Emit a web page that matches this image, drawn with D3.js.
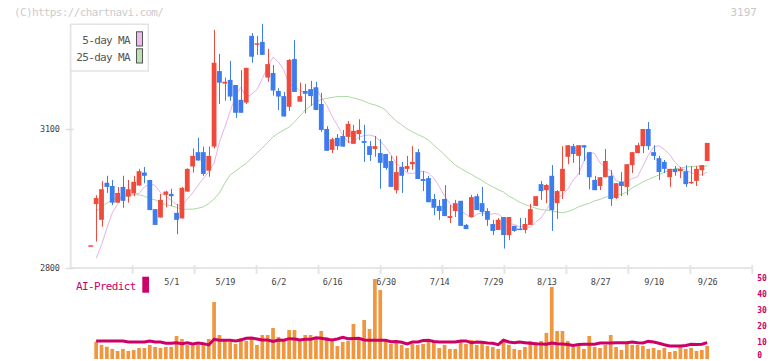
<!DOCTYPE html>
<html>
<head>
<meta charset="utf-8">
<script src="https://cdn.jsdelivr.net/npm/d3@7"></script>
<style>
  body { margin: 0; background: #fff; }
  text { font-family: "DejaVu Sans Mono", monospace; }
</style>
</head>
<body>
<div id="canvas"></div>
<script>
"use strict"

/* Daily prices (one entry per trading day, oldest first) */
let opens = [2849, 2938, 2904, 2984, 2977, 2941, 2975, 2954, 2961, 2978, 3006, 2990, 2927, 2909, 2958, 2960,
    2919, 2907, 2965, 3019, 3050, 3050, 3010, 3062, 3225, 3198, 3206, 3195, 3163, 3157, 3301, 3282, 3288, 3211,
    3221, 3182, 3171, 3148, 3251, 3159, 3182, 3186, 3190, 3154, 3100, 3055, 3081, 3085, 3083, 3068, 3089, 3074,
    3063, 3057, 3048, 3046, 3031, 2968, 3018, 3014, 3024, 3050, 2992, 2994, 2949, 2934, 2949, 2908, 2923, 2945,
    2893, 2910, 2955, 2940, 2923, 2895, 2882, 2910, 2871, 2891, 2885, 2882, 2893, 2934, 2981, 2968, 2999, 2940,
    2966, 3040, 3063, 3042, 3065, 3050, 2990, 2977, 2996, 2999, 2951, 2986, 2975, 3022, 3048, 3063, 3100, 3050,
    3037, 3029, 2996, 3014, 3009, 3009, 2983, 2988, 3011, 3031];
let highs = [2849, 2957, 2988, 2999, 2990, 2975, 2999, 2990, 2999, 3014, 3018, 2990, 2927, 2960, 2967, 2971,
    2938, 2975, 3015, 3058, 3081, 3062, 3062, 3314, 3262, 3211, 3247, 3195, 3227, 3232, 3307, 3301, 3327, 3273,
    3238, 3188, 3180, 3251, 3292, 3200, 3197, 3204, 3202, 3178, 3106, 3081, 3089, 3098, 3117, 3109, 3121, 3109,
    3074, 3085, 3078, 3046, 3042, 3042, 3029, 3042, 3063, 3057, 3009, 2999, 2960, 2947, 2979, 2936, 2947, 2945,
    2895, 2958, 2960, 2975, 2929, 2904, 2908, 2910, 2910, 2891, 2908, 2908, 2938, 2955, 2988, 2981, 3022, 2968,
    3063, 3065, 3068, 3065, 3065, 3050, 2999, 2996, 3057, 3011, 2983, 3007, 3024, 3050, 3070, 3100, 3115, 3065,
    3042, 3033, 3014, 3020, 3018, 3022, 3020, 3020, 3022, 3070];
let lows = [2849, 2857, 2889, 2962, 2936, 2941, 2930, 2941, 2955, 2978, 2983, 2925, 2893, 2909, 2931, 2934,
    2873, 2907, 2965, 3006, 3032, 2999, 2997, 3058, 3154, 3161, 3161, 3124, 3135, 3154, 3243, 3260, 3260, 3202,
    3172, 3141, 3127, 3139, 3180, 3159, 3134, 3150, 3141, 3094, 3053, 3048, 3055, 3062, 3070, 3068, 3076, 3029,
    3031, 3040, 2971, 3012, 2975, 2961, 2962, 3007, 3012, 2992, 2966, 2942, 2914, 2904, 2912, 2897, 2910, 2891,
    2884, 2909, 2925, 2912, 2891, 2871, 2882, 2842, 2860, 2878, 2882, 2875, 2893, 2934, 2947, 2940, 2880, 2906,
    2949, 3024, 3027, 3001, 3031, 2970, 2968, 2968, 2996, 2934, 2949, 2955, 2957, 3005, 3048, 3048, 3055, 3033,
    2990, 3005, 2975, 2999, 2994, 2975, 2981, 2977, 2999, 3031];
let closes = [2849, 2951, 2970, 2975, 2941, 2962, 2945, 2970, 2986, 3009, 2999, 2925, 2893, 2947, 2965, 2955,
    2904, 2973, 3014, 3042, 3032, 3003, 3042, 3243, 3200, 3202, 3170, 3135, 3135, 3232, 3256, 3285, 3260, 3240,
    3183, 3170, 3127, 3249, 3180, 3171, 3176, 3171, 3141, 3098, 3053, 3078, 3063, 3062, 3111, 3096, 3098, 3070,
    3044, 3063, 3027, 3016, 2975, 3007, 2999, 3020, 3029, 2992, 2988, 2942, 2930, 2923, 2912, 2912, 2940, 2891,
    2884, 2953, 2925, 2921, 2904, 2880, 2904, 2871, 2910, 2880, 2882, 2895, 2927, 2955, 2966, 2979, 2925, 2966,
    3014, 3065, 3046, 3065, 3060, 2996, 2968, 2996, 3031, 2949, 2983, 2977, 3024, 3050, 3065, 3100, 3063, 3042,
    3007, 3014, 3014, 3007, 3014, 2981, 2986, 3014, 3022, 3070];

/* Moving averages as drawn on the chart */
let ma5 = [null, 2821, 2850, 2886, 2919, 2938, 2960, 2959, 2959, 2961, 2975, 2982, 2978, 2963, 2955, 2946,
    2937, 2933, 2949, 2962, 2978, 2993, 3008, 3026, 3072, 3104, 3138, 3171, 3190, 3168, 3175, 3185, 3209, 3234,
    3255, 3245, 3228, 3196, 3194, 3182, 3179, 3181, 3190, 3168, 3152, 3128, 3108, 3087, 3071, 3073, 3082, 3086,
    3087, 3084, 3074, 3061, 3044, 3025, 3018, 3005, 3004, 3006, 3009, 3005, 2994, 2976, 2955, 2939, 2924, 2923,
    2916, 2908, 2916, 2919, 2915, 2917, 2917, 2907, 2896, 2894, 2889, 2889, 2888, 2899, 2908, 2925, 2945, 2951,
    2958, 2970, 2990, 3003, 3031, 3050, 3047, 3027, 3017, 3010, 2988, 2986, 2987, 2993, 2997, 3020, 3043, 3061,
    3064, 3056, 3045, 3028, 3017, 3011, 3006, 3001, 3001, 3007];
let ma25 = [null, 2922, 2932, 2940, 2947, 2951, 2954, 2957, 2958, 2958, 2955, 2950, 2947, 2941, 2937, 2934,
    2931, 2927, 2927, 2927, 2929, 2932, 2939, 2949, 2962, 2983, 3001, 3009, 3018, 3026, 3037, 3048, 3059, 3071,
    3083, 3091, 3098, 3104, 3115, 3128, 3141, 3150, 3158, 3164, 3166, 3168, 3170, 3170, 3170, 3167, 3164, 3160,
    3155, 3152, 3148, 3141, 3128, 3117, 3109, 3100, 3094, 3088, 3083, 3076, 3065, 3055, 3044, 3033, 3022, 3015,
    3008, 3002, 2995, 2989, 2981, 2975, 2969, 2964, 2955, 2949, 2942, 2937, 2933, 2929, 2926, 2925, 2923, 2921,
    2919, 2922, 2926, 2932, 2936, 2940, 2945, 2948, 2953, 2955, 2957, 2959, 2964, 2973, 2979, 2986, 2991, 2996,
    3001, 3007, 3010, 3014, 3016, 3018, 3019, 3020, 3020, 3020];

/* Bottom panel: volume bars and the AI-Predict line */
let volumes = [null, 10.8, 8.8, 7.7, 6.3, 5.0, 6.3, 5.0, 5.6, 6.9, 6.9, 8.8, 7.5, 6.9, 7.5, 7.5, 14.4, 12.5,
    8.8, 8.8, 8.8, 10.0, 12.5, 35.6, 15.0, 11.9, 10.6, 9.4, 13.1, 11.3, 13.1, 8.8, 15.0, 15.0, 19.4, 13.8, 12.5,
    18.1, 18.1, 12.5, 15.0, 15.0, 12.5, 17.5, 13.8, 12.5, 8.1, 10.6, 11.3, 21.9, 11.9, 24.4, 18.8, 50.0, 43.1,
    11.3, 9.4, 10.0, 8.8, 6.9, 9.4, 8.8, 9.4, 10.6, 11.3, 6.9, 8.8, 6.3, 6.3, 10.6, 9.4, 11.9, 8.8, 10.0, 8.1,
    7.5, 6.3, 12.5, 8.8, 6.3, 5.6, 7.5, 11.3, 9.4, 11.3, 16.3, 45.0, 17.5, 17.5, 11.3, 7.5, 8.1, 6.3, 14.4, 7.5,
    6.9, 8.8, 15.0, 7.5, 5.6, 9.4, 8.8, 8.8, 8.1, 6.3, 6.9, 5.6, 6.9, 4.4, 5.0, 7.5, 6.3, 6.9, 5.0, 5.6, 8.1];
let aiPredict = [null, 11.3, 11.3, 11.3, 11.3, 11.3, 11.3, 10.6, 10.6, 10.6, 10.6, 11.3, 10.6, 10.6, 9.8, 9.8,
    10.2, 9.6, 10.2, 9.4, 10.0, 9.6, 8.8, 12.3, 11.7, 11.7, 11.7, 11.3, 11.9, 12.9, 13.1, 12.5, 11.9, 11.9, 11.0,
    11.9, 11.7, 12.7, 12.5, 11.9, 12.3, 12.3, 13.3, 13.0, 12.3, 11.9, 12.5, 13.5, 12.7, 12.8, 12.9, 11.9, 11.7,
    11.7, 11.7, 11.7, 10.8, 11.0, 10.5, 9.4, 10.6, 10.6, 11.5, 11.7, 11.0, 10.6, 10.6, 10.6, 10.6, 11.3, 11.3,
    10.2, 10.6, 10.4, 10.0, 9.8, 9.0, 11.7, 10.6, 10.2, 10.6, 10.2, 9.8, 9.6, 9.3, 9.2, 10.0, 9.6, 9.4, 9.0, 8.5,
    9.0, 9.2, 9.2, 9.2, 10.0, 10.0, 10.0, 10.1, 10.2, 10.2, 10.6, 10.2, 10.0, 11.0, 10.6, 9.8, 8.9, 8.1, 8.1, 8.1,
    8.5, 9.2, 9.0, 9.2, 10.2];

/* Axis labels */
let dateLabels = ["5/1", "5/19", "6/2", "6/16", "6/30", "7/14", "7/29", "8/13", "8/27", "9/10", "9/26"];
let dateLabelDays = [15, 25, 35, 45, 55, 65, 75, 85, 95, 105, 115];
let priceTicks = [2800, 3100];
let volumeTicks = [0, 10, 20, 30, 40, 50];

let days = d3.range(closes.length);

let drawing = d3.select("#canvas")
    .append("svg")
    .attr("width", 772)
    .attr("height", 361);

// scales
let x = d3.scaleLinear().domain([0, days.length - 1]).range([90.8, 707.2]);
let y = d3.scaleLinear().domain([2800, 3100]).range([268, 129]);
let yVol = d3.scaleLinear().domain([0, 50]).range([359, 279]);
let grid = d3.scaleLinear().domain([0, 11]).range([70.7, 752.3]);

let up = "#ef4b3c";
let down = "#3d7ced";

// header texts
drawing.append("text")
    .attr("x", 14)
    .attr("y", 16)
    .attr("font-size", 11)
    .attr("letter-spacing", -0.65)
    .attr("fill", "#cccccc")
    .text("(C)https://chartnavi.com/");
drawing.append("text")
    .attr("x", 757)
    .attr("y", 16)
    .attr("text-anchor", "end")
    .attr("font-family", "Liberation Sans")
    .attr("font-size", 11)
    .attr("fill", "#c8c8c8")
    .text("3197");

// frame lines
drawing.append("line")
    .attr("x1", 70.7).attr("x2", 70.7)
    .attr("y1", 24).attr("y2", 269)
    .attr("stroke", "#e5e5e5")
    .attr("stroke-width", 2);
drawing.append("line")
    .attr("x1", 70.7).attr("x2", 752.3)
    .attr("y1", 268).attr("y2", 268)
    .attr("stroke", "#e5e5e5")
    .attr("stroke-width", 2);
drawing.selectAll(".gridTick")
    .data(d3.range(1, 12))
    .enter().append("line")
    .attr("x1", d => grid(d)).attr("x2", d => grid(d))
    .attr("y1", 265).attr("y2", 274)
    .attr("stroke", "#e5e5e5")
    .attr("stroke-width", 2);

// price axis
let yAxis = drawing.append("g")
    .attr("transform", "translate(70.7,0)")
    .call(d3.axisLeft(y).tickValues(priceTicks).tickFormat(d3.format("d")).tickSize(5).tickPadding(6));
yAxis.select(".domain").remove();
yAxis.selectAll(".tick line").attr("x2", -5).attr("x1", 3).attr("stroke", "#dddddd").attr("stroke-width", 1.5);
yAxis.selectAll(".tick text")
    .attr("font-family", "DejaVu Sans Mono")
    .attr("font-size", 8.5)
    .attr("letter-spacing", -0.2)
    .attr("fill", "#444");

// date labels
let xAxis = drawing.append("g")
    .attr("transform", "translate(0,268)")
    .call(d3.axisBottom(x).tickValues(dateLabelDays)
        .tickFormat((d, k) => dateLabels[k]).tickSize(0).tickPadding(11));
xAxis.select(".domain").remove();
xAxis.selectAll(".tick text")
    .attr("font-family", "DejaVu Sans Mono")
    .attr("font-size", 8.5)
    .attr("letter-spacing", -0.2)
    .attr("fill", "#444");

// moving averages
let ma25Line = d3.line()
    .defined(d => ma25[d] !== null)
    .x(d => x(d))
    .y(d => y(ma25[d]));
drawing.append("path")
    .attr("d", ma25Line(days))
    .attr("fill", "none")
    .attr("stroke", "#abd9a0")
    .attr("stroke-width", 1);
let ma5Line = d3.line()
    .defined(d => ma5[d] !== null)
    .x(d => x(d))
    .y(d => y(ma5[d]));
drawing.append("path")
    .attr("d", ma5Line(days))
    .attr("fill", "none")
    .attr("stroke", "#e8b2e8")
    .attr("stroke-width", 1);

// candles: wicks then bodies
drawing.selectAll(".wick")
    .data(days)
    .enter().append("line")
    .attr("x1", d => Math.round(x(d)) + 0.5)
    .attr("x2", d => Math.round(x(d)) + 0.5)
    .attr("y1", d => y(highs[d]))
    .attr("y2", d => y(lows[d]))
    .attr("stroke", d => closes[d] >= opens[d] ? up : down)
    .attr("stroke-width", 1);
drawing.selectAll(".body")
    .data(days)
    .enter().append("rect")
    .attr("x", d => x(d) - 2.4)
    .attr("width", 4.8)
    .attr("y", d => y(Math.max(opens[d], closes[d])))
    .attr("height", d => Math.max(1.5, Math.abs(y(opens[d]) - y(closes[d]))))
    .attr("fill", d => closes[d] >= opens[d] ? up : down);

// legend
drawing.append("rect")
    .attr("x", 70.7)
    .attr("y", 24.3)
    .attr("width", 77.6)
    .attr("height", 46.7)
    .attr("fill", "white")
    .attr("stroke", "#e3e3e3")
    .attr("stroke-width", 1.5);
let legendItems = [["5-day MA", "#ecbcec"], ["25-day MA", "#bcdfb4"]];
legendItems.forEach((item, k) => {
    drawing.append("text")
        .attr("x", 130)
        .attr("y", 40 + k * 17.3)
        .attr("dy", "0.35em")
        .attr("text-anchor", "end")
        .attr("font-size", 11)
        .attr("letter-spacing", -0.65)
        .attr("fill", "#555")
        .text(item[0]);
    drawing.append("rect")
        .attr("x", 136.5)
        .attr("y", 31.8 + k * 17)
        .attr("width", 6)
        .attr("height", 14.2)
        .attr("fill", item[1])
        .attr("stroke", "#555")
        .attr("stroke-width", 1);
});

// volume panel
drawing.selectAll(".vol")
    .data(days.filter(d => volumes[d] !== null))
    .enter().append("rect")
    .attr("x", d => x(d) - 1.85)
    .attr("width", 3.7)
    .attr("y", d => yVol(volumes[d]))
    .attr("height", d => yVol(0) - yVol(volumes[d]))
    .attr("fill", "#f0963e");

let aiLine = d3.line()
    .defined(d => aiPredict[d] !== null)
    .x(d => x(d))
    .y(d => yVol(aiPredict[d]));
drawing.append("path")
    .attr("d", aiLine(days))
    .attr("fill", "none")
    .attr("stroke", "#cc0066")
    .attr("stroke-width", 3)
    .attr("stroke-linejoin", "miter");

let volAxis = drawing.append("g")
    .attr("transform", "translate(752.3,0)")
    .call(d3.axisRight(yVol).tickValues(volumeTicks).tickSize(0).tickPadding(5));
volAxis.select(".domain").remove();
volAxis.selectAll(".tick text")
    .attr("font-family", "DejaVu Sans Mono")
    .attr("font-size", 8)
    .attr("font-weight", "bold")
    .attr("dy", d => d === 0 ? "-0.15em" : "0.18em")
    .attr("fill", "#cc0066");

drawing.append("text")
    .attr("x", 76)
    .attr("y", 286)
    .attr("dy", "0.35em")
    .attr("font-size", 11)
    .attr("letter-spacing", -0.65)
    .attr("fill", "#cc0066")
    .text("AI-Predict");
drawing.append("rect")
    .attr("x", 142.3)
    .attr("y", 276.7)
    .attr("width", 6.7)
    .attr("height", 16)
    .attr("fill", "#cc0066");
</script>
</body>
</html>
